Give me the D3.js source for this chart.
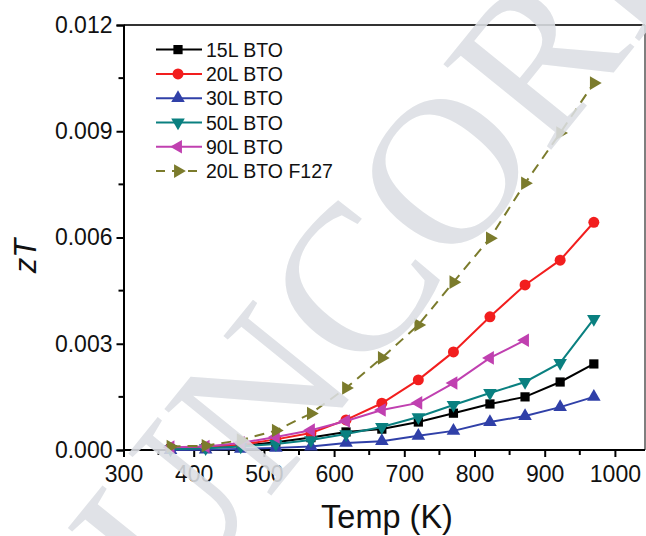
<!DOCTYPE html>
<html><head><meta charset="utf-8">
<script src="https://cdn.jsdelivr.net/npm/d3@7"></script>
<style>body{margin:0;background:#fff}svg{display:block;font-family:"Liberation Sans",Arial,sans-serif}</style>
</head><body><svg id="c" width="646" height="536"></svg>
<script>
const temps = [367, 417, 467, 517, 567, 617, 668, 720, 770, 822, 872, 922, 970];
const s15L = [0.00003, 0.00006, 0.00012, 0.00022, 0.00035, 0.00051, 0.00059, 0.00079, 0.00104, 0.0013, 0.0015, 0.00192, 0.00243];
const s20L = [0.00005, 0.00008, 0.00015, 0.0003, 0.00048, 0.00085, 0.00132, 0.00198, 0.00277, 0.00376, 0.00466, 0.00536, 0.00643];
const s30L = [0.0, 0.00001, 0.00003, 0.00006, 0.0001, 0.0002, 0.00025, 0.0004, 0.00054, 0.00079, 0.00096, 0.00121, 0.0015];
const s50L = [0.00002, 0.00005, 0.0001, 0.00017, 0.00028, 0.00045, 0.00065, 0.00093, 0.00127, 0.00161, 0.00192, 0.00246, 0.0037];
const s90L = [0.00008, 0.0001, 0.0002, 0.00037, 0.00056, 0.00082, 0.00113, 0.00133, 0.00189, 0.0026, 0.0031];
const s20LF127 = [0.0001, 0.00012, 0.00028, 0.00055, 0.00103, 0.00175, 0.0026, 0.00353, 0.00474, 0.00598, 0.00753, 0.00895, 0.01036];
const seriesNames = ["15L BTO", "20L BTO", "30L BTO", "50L BTO", "90L BTO", "20L BTO F127"];
const xTicks = [300, 400, 500, 600, 700, 800, 900, 1000];
const yTicks = [0, 0.003, 0.006, 0.009, 0.012];

const series = [
  {name: seriesNames[0], vals: s15L, color: "#000000", sym: d3.symbolSquare, size: 85, rot: 0, dash: null},
  {name: seriesNames[1], vals: s20L, color: "#f21e1e", sym: d3.symbolCircle, size: 95, rot: 0, dash: null},
  {name: seriesNames[2], vals: s30L, color: "#3040a8", sym: d3.symbolTriangle, size: 80, rot: 0, dash: null},
  {name: seriesNames[3], vals: s50L, color: "#0a8080", sym: d3.symbolTriangle, size: 80, rot: 180, dash: null},
  {name: seriesNames[4], vals: s90L, color: "#c040b0", sym: d3.symbolTriangle, size: 80, rot: -90, dash: null},
  {name: seriesNames[5], vals: s20LF127, color: "#7b7b2c", sym: d3.symbolTriangle, size: 80, rot: 90, dash: "10,7"}
];

const svg = d3.select("#c");
const x = d3.scaleLinear().domain([300, 1050]).range([123.5, 650]);
const y = d3.scaleLinear().domain([0, 0.012]).range([450, 25]);
const x0 = 123.5, xr = 645, y0 = 450, y1 = 25;

// frame top/right
svg.append("line").attr("x1", x0).attr("x2", xr).attr("y1", y1).attr("y2", y1).attr("stroke", "#333").attr("stroke-width", 2);
svg.append("line").attr("x1", xr).attr("x2", xr).attr("y1", y1).attr("y2", y0).attr("stroke", "#555").attr("stroke-width", 1.5);

// x axis
const xMinor = d3.range(350, 1050, 100);
const gx = svg.append("g").attr("transform", `translate(0,${y0})`);
gx.call(d3.axisBottom(x).tickValues(xTicks).tickSize(7).tickPadding(9).tickFormat(d3.format("d")));
gx.select(".domain").attr("d", `M${x0},0H${xr}`).attr("stroke", "#000").attr("stroke-width", 2);
gx.selectAll(".tick line").attr("stroke-width", 2);
gx.selectAll(".tick text").attr("font-size", 23).attr("fill", "#111").attr("font-family", "Liberation Sans, Arial, sans-serif");
gx.selectAll(".minor").data(xMinor).enter().append("line")
  .attr("x1", d => x(d)).attr("x2", d => x(d)).attr("y1", 0).attr("y2", 5).attr("stroke", "#000").attr("stroke-width", 2);

// y axis
const yMinor = [0.0015, 0.0045, 0.0075, 0.0105];
const gy = svg.append("g").attr("transform", `translate(${x0},0)`);
gy.call(d3.axisLeft(y).tickValues(yTicks).tickSize(7).tickPadding(4).tickFormat(d3.format(".3f")));
gy.select(".domain").attr("stroke", "#000").attr("stroke-width", 2);
gy.selectAll(".tick line").attr("stroke-width", 2);
gy.selectAll(".tick text").attr("font-size", 23).attr("fill", "#111").attr("font-family", "Liberation Sans, Arial, sans-serif");
gy.selectAll(".minor").data(yMinor).enter().append("line")
  .attr("y1", d => y(d)).attr("y2", d => y(d)).attr("x1", 0).attr("x2", -5).attr("stroke", "#000").attr("stroke-width", 2);

// axis titles
svg.append("text").attr("x", 387).attr("y", 528).attr("text-anchor", "middle").attr("font-size", 32.5).attr("fill", "#111").text("Temp (K)");
svg.append("text").attr("transform", "translate(36,256) rotate(-90)").attr("text-anchor", "middle")
  .attr("font-size", 31).attr("font-style", "italic").attr("fill", "#111").text("zT");

// data
const line = d3.line().x(d => x(d[0])).y(d => y(d[1]));
series.forEach(s => {
  const pts = s.vals.map((v, i) => [temps[i], v]);
  svg.append("path").datum(pts).attr("d", line).attr("fill", "none").attr("stroke", s.color)
    .attr("stroke-width", 2).attr("stroke-dasharray", s.dash);
  svg.selectAll(null).data(pts).enter().append("path")
    .attr("d", d3.symbol().type(s.sym).size(s.size))
    .attr("transform", d => `translate(${x(d[0])},${y(d[1])}) rotate(${s.rot})`)
    .attr("fill", s.color);
});

// legend
const lg = svg.append("g");
series.forEach((s, i) => {
  const cy = 49.6 + i * 24.3;
  lg.append("line").attr("x1", 156).attr("x2", 202).attr("y1", cy).attr("y2", cy)
    .attr("stroke", s.color).attr("stroke-width", 2).attr("stroke-dasharray", s.dash ? "9,7" : null);
  lg.append("path").attr("d", d3.symbol().type(s.sym).size(s.size))
    .attr("transform", `translate(178,${cy}) rotate(${s.rot})`).attr("fill", s.color);
  lg.append("text").attr("x", 206).attr("y", cy + 7).attr("font-size", 19.5).attr("fill", "#111")
    .text(s.name);
});

// watermark
svg.append("text").attr("transform", "translate(172,618) rotate(-51)")
  .attr("font-family", "Liberation Serif, serif").attr("font-size", 210).attr("fill", "#dcdfe4")
  .attr("opacity", 0.88).text("UNCORRECTED");
</script></body></html>
